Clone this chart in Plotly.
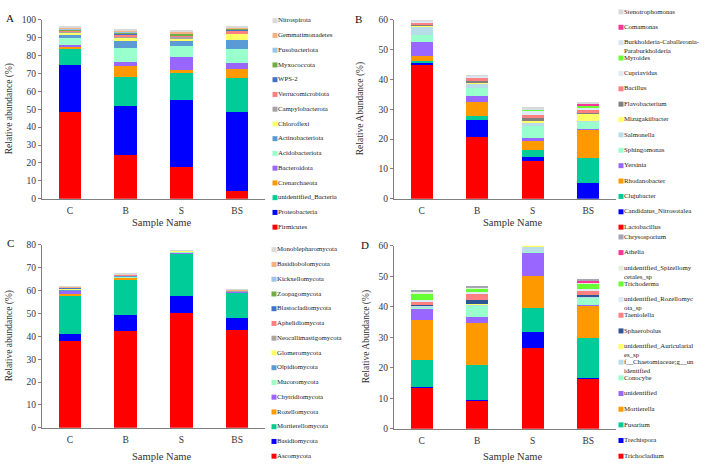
import plotly.graph_objs as go

samples = ["C", "B", "S", "BS"]

# Panel A - bacterial phyla (bottom of stack first)
a_names = ["Firmicutes", "Proteobacteria", "unidentified_Bacteria", "Crenarchaeota",
           "Bacteroidota", "Acidobacteriota", "Actinobacteriota", "Chloroflexi",
           "Campylobacterota", "Verrucomicrobiota", "WPS-2", "Myxococcota",
           "Fusobacteriota", "Gemmatimonadetes", "Nitrospirota"]
a_C = [48.5, 26.0, 9.5, 0.6, 1.5, 3.8, 2.2, 1.0, 0.6, 0.4, 0.3, 0.5, 0.3, 0.5, 0.5]
a_B = [24.4, 27.3, 16.4, 6.0, 2.2, 7.7, 4.1, 2.4, 0.5, 1.0, 0.3, 0.8, 0.3, 0.5, 0.8]
a_S = [17.7, 37.7, 15.1, 1.5, 6.9, 6.3, 3.1, 1.5, 0.4, 1.2, 0.2, 0.8, 0.3, 0.8, 0.8]
a_BS = [4.4, 44.2, 18.6, 5.5, 3.2, 7.7, 5.1, 3.6, 0.3, 1.0, 1.2, 0.3, 0.3, 0.6, 0.3]

# Panel B - bacterial genera
b_names = ["Lactobacillus", "Candidatus_Nitrosotalea", "Clujubacter", "Rhodanobacter",
           "Yersinia", "Sphingomonas", "Salmonella", "Mizugakiibacter", "Flavobacterium",
           "Bacillus", "Cupriavidus", "Myroides",
           "Burkholderia-Caballeronia-<br>Paraburkholderia", "Comamonas", "Stenotrophomonas"]
b_C = [45.2, 0.6, 0.5, 1.6, 4.7, 2.2, 3.0, 0.3, 0.1, 1.1, 0.2, 0.0, 0.2, 0.1, 0.1]
b_B = [20.7, 5.8, 1.3, 4.7, 1.8, 2.8, 1.6, 0.5, 0.1, 1.5, 0.3, 0.0, 0.2, 0.0, 0.1]
b_S = [12.7, 1.4, 2.4, 2.7, 1.1, 4.2, 1.3, 0.4, 1.0, 1.0, 1.6, 0.1, 0.3, 0.1, 0.3]
b_BS = [0.0, 5.3, 8.2, 9.7, 0.2, 2.5, 0.2, 2.6, 0.2, 1.2, 0.3, 0.8, 0.3, 0.6, 0.4]

# Panel C - fungal phyla
c_names = ["Ascomycota", "Basidiomycota", "Mortierellomycota", "Rozellomycota",
           "Chytridiomycota", "Mucoromycota", "Olpidiomycota", "Glomeromycota",
           "Neocallimastigomycota", "Aphelidiomycota", "Blastocladiomycota",
           "Zoopagomycota", "Kickxellomycota", "Basidiobolomycota", "Monoblepharomycota"]
c_C = [37.9, 2.9, 16.9, 1.0, 1.2, 0.3, 0.5, 0.2, 0.1, 0.2, 0.1, 0.2, 0.1, 0.1, 0.1]
c_B = [42.5, 6.6, 16.0, 0.7, 0.2, 0.3, 0.2, 0.1, 0.1, 0.2, 0.1, 0.1, 0.1, 0.1, 0.1]
c_S = [50.1, 7.7, 18.6, 0.1, 0.1, 0.4, 0.1, 0.3, 0.05, 0.05, 0.05, 0.05, 0.05, 0.05, 0.05]
c_BS = [42.9, 5.3, 11.1, 0.1, 0.2, 0.1, 0.1, 0.05, 0.05, 0.2, 0.05, 0.05, 0.05, 0.1, 0.05]

# Panel D - fungal genera
d_names = ["Trichocladium", "Trechispora", "Fusarium", "Mortierella", "unidentified",
           "Conocybe", "f__Chaetomiaceae;g__un<br>identified",
           "unidentified_Auricularial<br>es_sp", "Sphaerobolus", "Taeniolella",
           "unidentified_Rozellomyc<br>ota_sp", "Trichoderma",
           "unidentified_Spizellomy<br>cetales_sp", "Athelia", "Chrysosporium"]
d_C = [13.6, 0.1, 8.9, 13.1, 3.8, 0.5, 0.5, 0.1, 0.1, 1.0, 0.6, 1.8, 1.0, 0.1, 0.4]
d_B = [9.5, 0.1, 11.2, 13.8, 1.9, 3.9, 0.4, 0.1, 1.4, 2.0, 0.4, 1.3, 0.3, 0.1, 0.4]
d_S = [26.6, 5.2, 7.7, 10.5, 7.8, 0.2, 1.8, 0.3, 0.05, 0.05, 0.05, 0.05, 0.05, 0.05, 0.05]
d_BS = [16.5, 0.1, 13.2, 10.6, 0.3, 2.5, 0.3, 0.1, 0.1, 1.8, 0.2, 2.0, 0.3, 0.6, 0.3]

phylum_colors = ["#FF0000", "#0000FF", "#00CC99", "#FF9900", "#9966FF", "#99FFCC",
                 "#5B9BD5", "#FFFF66", "#A5A5A5", "#FF8080", "#4472C4", "#70AD47",
                 "#9DC3E6", "#F4B183", "#D9D9D9"]
b_colors = ["#FF0000", "#0000FF", "#00CC99", "#FF9900", "#9966FF", "#99FFCC",
            "#B7DEE8", "#FFFF66", "#808080", "#FF8080", "#DDEBF7", "#66FF33",
            "#D6E4F0", "#FF3399", "#D9D9D9"]
d_colors = ["#FF0000", "#0000FF", "#00CC99", "#FF9900", "#9966FF", "#99FFCC",
            "#B7DEE8", "#FFFF66", "#2F5597", "#FF8080", "#DDEBF7", "#66FF33",
            "#E2F0D9", "#FF3399", "#A5A5B5"]

W, H = 709, 470
FONT = "Times New Roman, Liberation Serif, serif"


def px(x):
    return x / W


def py(y):
    return 1 - y / H


# pixel layout of each panel: plot box, legend column, labels
panels = [
    dict(letter="A", names=a_names, vals=[a_C, a_B, a_S, a_BS], colors=phylum_colors,
         x0=42, x1=265, ybot=198, ytop=15, ymax=100, ytitle="Relative abundance (%)",
         ytx=9, leg_mx=275, leg_y=227, leg_dy=15.07, lx=10, ly=13, sy=222),
    dict(letter="B", names=b_names, vals=[b_C, b_B, b_S, b_BS], colors=b_colors,
         x0=394, x1=616, ybot=198, ytop=15, ymax=60, ytitle="Relative Abundance (%)",
         ytx=360, leg_mx=621, leg_y=227, leg_dy=15.71, lx=358, ly=14, sy=222),
    dict(letter="C", names=c_names, vals=[c_C, c_B, c_S, c_BS], colors=phylum_colors,
         x0=42, x1=265, ybot=432, ytop=245, ymax=80, ytitle="Relative abundance (%)",
         ytx=9, leg_mx=274, leg_y=461, leg_dy=15.07, lx=10, ly=243, sy=461),
    dict(letter="D", names=d_names, vals=[d_C, d_B, d_S, d_BS], colors=d_colors,
         x0=394, x1=616, ybot=433, ytop=246, ymax=60, ytitle="Relative Abundance (%)",
         ytx=366, leg_mx=621, leg_y=461, leg_dy=16.0, lx=365, ly=245, sy=461),
]

fig = go.Figure()
annotations = []
layout = dict(
    width=W, height=H, margin=dict(l=0, r=0, t=0, b=0),
    paper_bgcolor="white", plot_bgcolor="rgba(0,0,0,0)",
    barmode="stack", showlegend=False,
    font=dict(family=FONT, size=9.5, color="#333333"),
)


def note(text, x, y, size, angle=0, color="#333333"):
    return dict(text=text, x=px(x), y=py(y), xref="paper", yref="paper",
                xanchor="center", yanchor="middle", showarrow=False,
                textangle=angle, font=dict(size=size, color=color, family=FONT))


for k, p in enumerate(panels):
    n = k + 1
    xa = "x" if n == 1 else "x%d" % n
    ya = "y" if n == 1 else "y%d" % n
    for j, name in enumerate(p["names"]):
        fig.add_trace(go.Bar(
            x=samples, y=[v[j] for v in p["vals"]], name=name,
            marker=dict(color=p["colors"][j], line=dict(width=0)),
            width=0.4, xaxis=xa, yaxis=ya, hoverinfo="x+y+name"
        ))
    layout["xaxis" if n == 1 else "xaxis%d" % n] = dict(
        domain=[px(p["x0"]), px(p["x1"])], anchor=ya, type="category",
        range=[-0.5, 3.5], showline=True, linecolor="#808080", linewidth=1,
        ticks="", showgrid=False, zeroline=False, tickfont=dict(size=9.5),
        ticklabelstandoff=3,
    )
    layout["yaxis" if n == 1 else "yaxis%d" % n] = dict(
        domain=[py(p["ybot"]), py(p["ytop"])], anchor=xa,
        range=[0, p["ymax"]], tickmode="linear", tick0=0, dtick=10,
        showline=True, linecolor="#808080", linewidth=1,
        ticks="outside", ticklen=3, tickcolor="#808080",
        showgrid=False, zeroline=False, tickfont=dict(size=9.5),
    )
    # panel letter, axis titles
    annotations.append(note(p["letter"], p["lx"], p["ly"], 11, color="#111111"))
    annotations.append(note(p["ytitle"], p["ytx"], (p["ybot"] + p["ytop"]) / 2, 9.5, angle=-90))
    annotations.append(note("Sample Name", (p["x0"] + p["x1"]) / 2 + 8, p["sy"], 10.5))

    # legend column, top entry = last trace
    ys = [p["leg_y"] - j * p["leg_dy"] for j in range(len(p["names"]))]
    text_ys = [y + (4.5 if "<br>" in nm else 0) for y, nm in zip(ys, p["names"])]
    fig.add_trace(go.Scatter(
        x=[p["leg_mx"]] * len(ys), y=ys, mode="markers",
        marker=dict(symbol="square", size=5, color=p["colors"], line=dict(width=0)),
        xaxis="x5", yaxis="y5", hoverinfo="skip"
    ))
    fig.add_trace(go.Scatter(
        x=[p["leg_mx"] + 3] * len(ys), y=text_ys, mode="text", text=p["names"],
        textposition="middle right", textfont=dict(size=6.8, color="#222222", family=FONT),
        xaxis="x5", yaxis="y5", hoverinfo="skip"
    ))

layout["xaxis5"] = dict(domain=[0, 1], range=[0, W], visible=False, anchor="y5")
layout["yaxis5"] = dict(domain=[0, 1], range=[H, 0], visible=False, anchor="x5")
layout["annotations"] = annotations
fig.update_layout(**layout)

fig.write_html("out.html", config={"displayModeBar": False},
               post_script="document.body.style.margin='0';")
